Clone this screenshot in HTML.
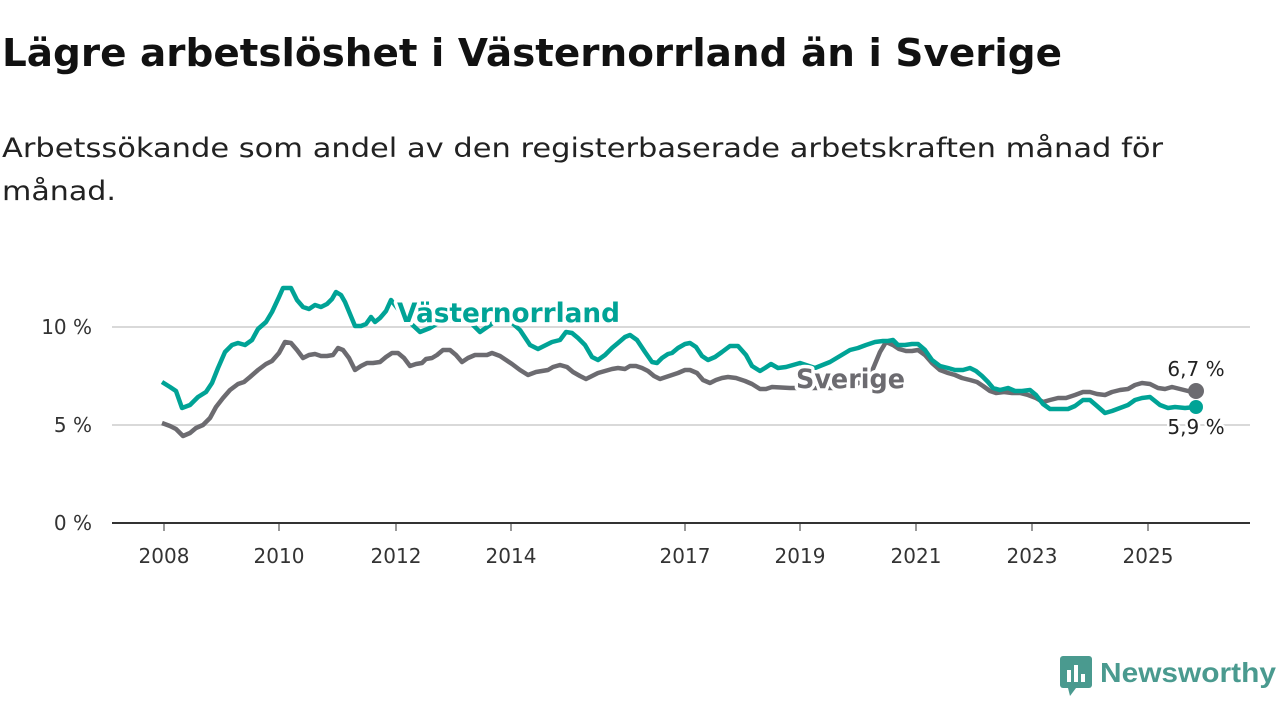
<!DOCTYPE html>
<html><head><meta charset="utf-8"><style>
body{margin:0;width:1280px;height:720px;background:#fff;font-family:"DejaVu Sans","Liberation Sans",sans-serif;overflow:hidden;position:relative}
</style></head><body>
<svg width="1280" height="720" style="position:absolute;left:0;top:0" font-family="DejaVu Sans, Liberation Sans, sans-serif">
<text x="2" y="66" font-size="38" font-weight="bold" fill="#111" textLength="1060" lengthAdjust="spacingAndGlyphs">Lägre arbetslöshet i Västernorrland än i Sverige</text>
<text x="2" y="157" font-size="27" fill="#222" textLength="1161" lengthAdjust="spacingAndGlyphs">Arbetssökande som andel av den registerbaserade arbetskraften månad för</text>
<text x="2" y="200" font-size="27" fill="#222" textLength="114" lengthAdjust="spacingAndGlyphs">månad.</text>
<g stroke="#d9d9d9" stroke-width="2"><line x1="112" y1="327" x2="1250" y2="327"/><line x1="112" y1="425" x2="1250" y2="425"/></g>
<line x1="112" y1="523" x2="1250" y2="523" stroke="#333" stroke-width="2"/>
<g font-size="20" fill="#333" text-anchor="end"><text x="92" y="334">10 %</text><text x="92" y="432">5 %</text><text x="92" y="530">0 %</text></g>
<g font-size="20" fill="#333" text-anchor="middle" stroke="#333">
<line x1="164" y1="523" x2="164" y2="531"/><line x1="279" y1="523" x2="279" y2="531"/><line x1="396" y1="523" x2="396" y2="531"/><line x1="511" y1="523" x2="511" y2="531"/><line x1="685" y1="523" x2="685" y2="531"/><line x1="800" y1="523" x2="800" y2="531"/><line x1="916" y1="523" x2="916" y2="531"/><line x1="1032" y1="523" x2="1032" y2="531"/><line x1="1148" y1="523" x2="1148" y2="531"/>
<g stroke="none"><text x="164" y="563">2008</text><text x="279" y="563">2010</text><text x="396" y="563">2012</text><text x="511" y="563">2014</text><text x="685" y="563">2017</text><text x="800" y="563">2019</text><text x="916" y="563">2021</text><text x="1032" y="563">2023</text><text x="1148" y="563">2025</text></g></g>
<polyline fill="none" stroke="#6c6b70" stroke-width="4.5" stroke-linejoin="round" points="162,423 170,426 176,429 183,436 190,433 196,428 203,425 210,418 216,407 223,398 230,390 238,384 244,382 250,377 258,370 266,364 272,361 279,353 285,342 291,343 297,350 303,358 309,355 315,354 321,356 327,356 333,355 338,348 343,350 349,358 355,370 361,366 367,363 373,363 380,362 386,357 392,353 398,353 404,358 410,366 416,364 422,363 426,359 432,358 437,355 443,350 450,350 456,355 462,362 468,358 475,355 481,355 487,355 492,353 500,356 506,360 512,364 520,370 528,375 536,372 542,371 548,370 553,367 560,365 567,367 573,372 580,376 586,379 592,376 598,373 605,371 612,369 618,368 625,369 630,366 636,366 642,368 648,371 654,376 660,379 666,377 672,375 678,373 685,370 690,370 697,373 703,380 710,383 716,380 722,378 728,377 736,378 745,381 752,384 760,389 766,389 772,387 790,388 850,388 870,376 880,352 886,342 893,345 899,349 906,351 912,351 918,350 925,355 932,363 940,370 948,373 955,375 962,378 970,380 977,382 983,386 990,391 996,393 1004,392 1012,393 1020,393 1028,395 1036,398 1043,402 1050,400 1058,398 1066,398 1075,395 1083,392 1090,392 1097,394 1105,395 1112,392 1120,390 1128,389 1135,385 1142,383 1150,384 1158,388 1165,389 1172,387 1180,389 1188,391 1196,391"/>
<polyline fill="none" stroke="#00a396" stroke-width="4.5" stroke-linejoin="round" points="162,382 170,387 176,391 182,408 190,405 198,397 206,392 212,383 218,368 225,352 232,345 238,343 245,345 252,340 258,329 266,322 272,312 279,297 283,288 291,288 297,300 303,307 309,309 315,305 321,307 327,304 332,299 336,292 341,295 345,302 350,314 355,326 361,326 366,324 371,317 375,322 380,318 386,311 391,300 405,318 420,332 430,328 440,322 455,320 470,322 480,332 490,325 500,318 511,322 520,330 530,345 538,349 546,345 552,342 560,340 566,332 572,333 578,338 585,345 592,357 598,360 605,355 612,348 618,343 625,337 630,335 637,340 645,352 652,362 657,363 662,358 668,354 672,353 678,348 685,344 690,343 696,347 702,356 708,360 715,357 722,352 730,346 738,346 746,355 752,366 760,371 765,368 771,364 778,368 786,367 800,363 815,368 830,362 840,356 850,350 858,348 866,345 875,342 883,341 888,341 893,340 898,345 905,345 912,344 918,344 925,350 932,360 940,366 948,368 955,370 963,370 970,368 976,371 982,376 988,382 993,388 1000,390 1008,388 1015,391 1022,391 1030,390 1036,395 1043,404 1050,409 1058,409 1068,409 1075,406 1083,400 1090,400 1097,406 1105,413 1112,411 1120,408 1128,405 1135,400 1142,398 1150,397 1160,405 1168,408 1175,407 1185,408 1196,407"/>
<circle cx="1196" cy="391" r="8" fill="#6c6b70"/><circle cx="1196" cy="407" r="7" fill="#00a396"/>
<g font-weight="bold" font-size="27" stroke="#fff" stroke-width="7" paint-order="stroke" stroke-linejoin="round">
<text x="397" y="322" fill="#00a396" textLength="223" lengthAdjust="spacingAndGlyphs">Västernorrland</text>
<text x="796" y="388" fill="#6c6b70" textLength="109" lengthAdjust="spacingAndGlyphs">Sverige</text></g>
<g font-size="20" fill="#222" text-anchor="middle" stroke="#fff" stroke-width="5" paint-order="stroke"><text x="1196" y="376">6,7 %</text><text x="1196" y="434">5,9 %</text></g>
<g transform="translate(1060,656)"><rect x="0" y="0" width="32" height="32" rx="3" fill="#4a9a8f"/><rect x="7" y="14" width="4" height="12" fill="#fff"/><rect x="14" y="9" width="4" height="17" fill="#fff"/><rect x="21" y="18" width="4" height="8" fill="#fff"/><polygon points="8,32 16,32 10,40" fill="#4a9a8f"/></g>
<text x="1100" y="682" font-size="28" font-weight="bold" fill="#4a9a8f" font-family="Liberation Sans, sans-serif" textLength="176" lengthAdjust="spacingAndGlyphs">Newsworthy</text>
</svg>
</body></html>
